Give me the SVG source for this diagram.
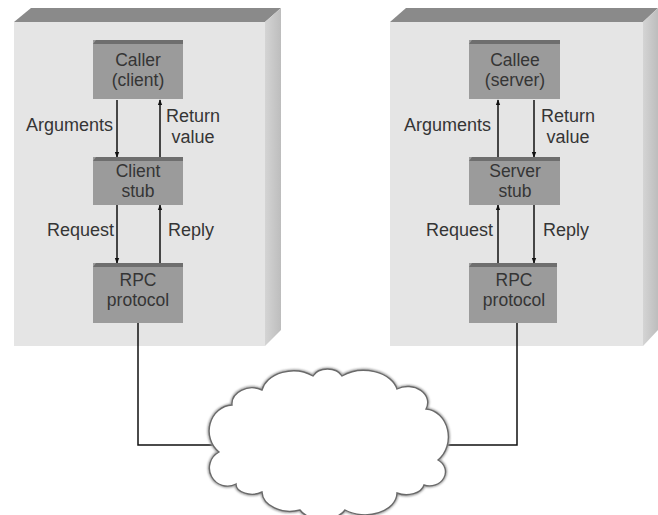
<svg xmlns="http://www.w3.org/2000/svg" width="658" height="515" viewBox="0 0 658 515">
  <defs>
    <style>
      .front { fill: #e5e5e5; }
      .top { fill: #8a8a8a; }
      .side { fill: url(#sideGrad); }
      .box { fill: #9b9b9b; }
      .boxTop { fill: #6e6e6e; }
      .boxText { font-family: "Liberation Sans", Arial, sans-serif; font-size: 17.5px; fill: #353535; text-anchor: middle; }
      .label { font-family: "Liberation Sans", Arial, sans-serif; font-size: 18px; fill: #353535; }
      .arrow { stroke: #111; stroke-width: 1.5; fill: none; }
      .wire { stroke: #111; stroke-width: 1.5; fill: none; }
    </style>
    <linearGradient id="sideGrad" x1="0" y1="0" x2="1" y2="0">
      <stop offset="0" stop-color="#d4d4d4"/>
      <stop offset="1" stop-color="#bdbdbd"/>
    </linearGradient>
    <marker id="head" viewBox="0 0 8 8" refX="7" refY="4" markerWidth="6" markerHeight="6" orient="auto" markerUnits="userSpaceOnUse">
      <path d="M0,1 L8,4 L0,7 z" fill="#111"/>
    </marker>
    <filter id="soft" x="-10%" y="-10%" width="120%" height="120%">
      <feGaussianBlur stdDeviation="0.8"/>
    </filter>
    <path id="cloudOutline" d="M219,452 A24,26 0 0 1 232,405 A20,16 0 0 1 262,390 A32,24 0 0 1 313,376 A16,12 0 0 1 342,376 A34,24 0 0 1 397,389 A20,16 0 0 1 426,409 A24,28 0 0 1 438,460 A16,14 0 0 1 424,485 A18,12 0 0 1 397,493 A32,22 0 0 1 345,510 A24,14 0 0 1 300,510 A28,20 0 0 1 262,492 A16,10 0 0 1 236,484 A18,18 0 0 1 219,452 Z"/>
  </defs>

  <!-- Client machine -->
  <g id="client-machine">
    <polygon class="top" points="14,22 31,8 281,8 265,22"/>
    <polygon class="side" points="265,22 281,8 281,330 265,346"/>
    <rect class="front" x="14" y="22" width="251" height="324"/>
  </g>

  <!-- Server machine -->
  <g id="server-machine">
    <polygon class="top" points="390,22 406,8 658,8 643,22"/>
    <polygon class="side" points="643,22 658,8 658,330 643,346"/>
    <rect class="front" x="390" y="22" width="253" height="324"/>
  </g>

  <!-- Connectors -->
  <g id="connectors">
    <line class="arrow" x1="117" y1="100" x2="117" y2="157" marker-end="url(#head)"/>
    <line class="arrow" x1="160" y1="157" x2="160" y2="100" marker-end="url(#head)"/>
    <line class="arrow" x1="117" y1="205" x2="117" y2="263" marker-end="url(#head)"/>
    <line class="arrow" x1="160" y1="263" x2="160" y2="205" marker-end="url(#head)"/>
    <line class="arrow" x1="498" y1="157" x2="498" y2="100" marker-end="url(#head)"/>
    <line class="arrow" x1="534" y1="100" x2="534" y2="157" marker-end="url(#head)"/>
    <line class="arrow" x1="498" y1="263" x2="498" y2="205" marker-end="url(#head)"/>
    <line class="arrow" x1="534" y1="205" x2="534" y2="263" marker-end="url(#head)"/>
    <polyline class="wire" points="138,323 138,445 218,445"/>
    <polyline class="wire" points="439,445 517,445 517,323"/>
  </g>

  <!-- Edge labels -->
  <g id="labels">
    <text class="label" x="113" y="131" text-anchor="end">Arguments</text>
    <text class="label" x="193" y="122" text-anchor="middle">Return</text>
    <text class="label" x="193" y="143" text-anchor="middle">value</text>
    <text class="label" x="114" y="236" text-anchor="end">Request</text>
    <text class="label" x="168" y="236">Reply</text>
    <text class="label" x="491" y="131" text-anchor="end">Arguments</text>
    <text class="label" x="568" y="122" text-anchor="middle">Return</text>
    <text class="label" x="568" y="143" text-anchor="middle">value</text>
    <text class="label" x="493" y="236" text-anchor="end">Request</text>
    <text class="label" x="543" y="236">Reply</text>
  </g>

  <!-- Client-side layers -->
  <g id="caller">
    <rect class="box" x="93" y="40" width="90" height="59"/>
    <polygon class="boxTop" points="93,44 96,40 183,40 183,44"/>
    <text class="boxText" x="138" y="66">Caller</text>
    <text class="boxText" x="138" y="86">(client)</text>
  </g>
  <g id="client-stub">
    <rect class="box" x="93" y="157" width="90" height="48"/>
    <polygon class="boxTop" points="93,161 96,157 183,157 183,161"/>
    <text class="boxText" x="138" y="177">Client</text>
    <text class="boxText" x="138" y="197">stub</text>
  </g>
  <g id="client-rpc">
    <rect class="box" x="93" y="263" width="90" height="60"/>
    <polygon class="boxTop" points="93,267 96,263 183,263 183,267"/>
    <text class="boxText" x="138" y="286">RPC</text>
    <text class="boxText" x="138" y="306">protocol</text>
  </g>

  <!-- Server-side layers -->
  <g id="callee">
    <rect class="box" x="469" y="40" width="91" height="59"/>
    <polygon class="boxTop" points="469,44 472,40 560,40 560,44"/>
    <text class="boxText" x="515" y="66">Callee</text>
    <text class="boxText" x="515" y="86">(server)</text>
  </g>
  <g id="server-stub">
    <rect class="box" x="469" y="157" width="91" height="48"/>
    <polygon class="boxTop" points="469,161 472,157 560,157 560,161"/>
    <text class="boxText" x="515" y="177">Server</text>
    <text class="boxText" x="515" y="197">stub</text>
  </g>
  <g id="server-rpc">
    <rect class="box" x="469" y="263" width="88" height="60"/>
    <polygon class="boxTop" points="469,267 472,263 557,263 557,267"/>
    <text class="boxText" x="514" y="286">RPC</text>
    <text class="boxText" x="514" y="306">protocol</text>
  </g>

  <!-- Network cloud: soft halo under a crisp outline -->
  <g id="network">
    <use href="#cloudOutline" fill="#fff" stroke="#9a9a9a" stroke-width="3.2" filter="url(#soft)"/>
    <use href="#cloudOutline" fill="#fff" stroke="#6a6a6a" stroke-width="1.4"/>
  </g>
</svg>
